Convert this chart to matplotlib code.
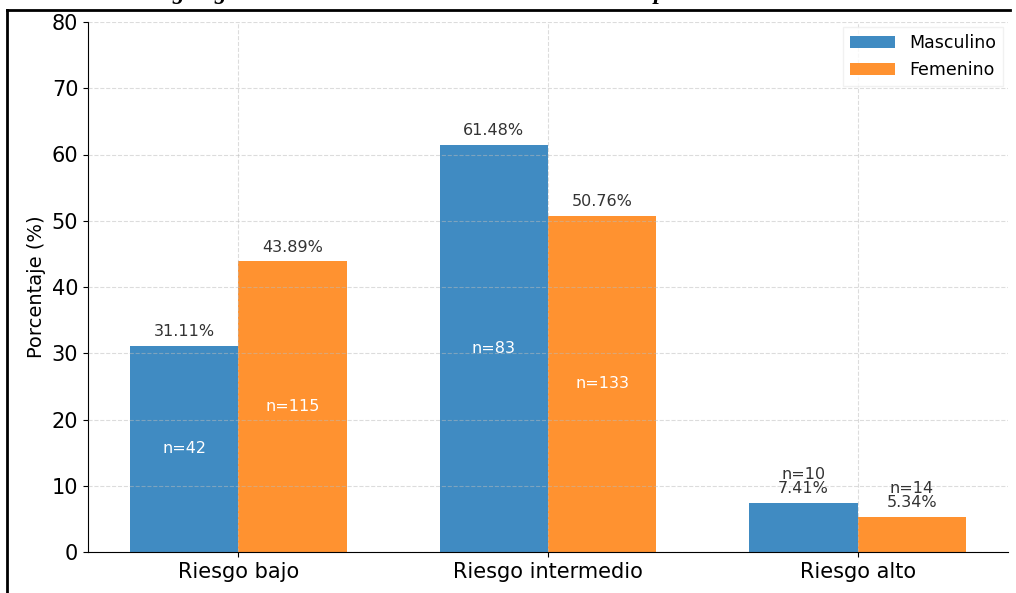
import numpy as np
import matplotlib
matplotlib.use("Agg")
import matplotlib.pyplot as plt
from matplotlib.lines import Line2D

# data
categorias = ["Riesgo bajo", "Riesgo intermedio", "Riesgo alto"]
pct_masc = [31.11, 61.48, 7.41]
pct_fem = [43.89, 50.76, 5.34]
n_masc = [42, 83, 10]
n_fem = [115, 133, 14]

azul = "#408bc2"
naranja = "#ff9230"

fig = plt.figure(figsize=(10.16, 5.93), dpi=100)
ax = fig.add_axes([88/1016, 1 - 552/593, (1008-88)/1016, (552-22)/593])

x = np.arange(len(categorias))
w = 0.35
ax.bar(x - w/2, pct_masc, w, color=azul, label="Masculino")
ax.bar(x + w/2, pct_fem, w, color=naranja, label="Femenino")

for xs, vals, ns in [(x - w/2, pct_masc, n_masc), (x + w/2, pct_fem, n_fem)]:
    for xi, v, n in zip(xs, vals, ns):
        ax.text(xi, v + 1, f"{v:.2f}%", ha="center", va="bottom", fontsize=11.5, color="#333333")
        if v > 15:
            ax.text(xi, v/2, f"n={n}", ha="center", va="center", fontsize=11.5, color="white")
        else:
            ax.text(xi, v + 3.1, f"n={n}", ha="center", va="bottom", fontsize=11.5, color="#333333")

ax.set_ylim(0, 80)
ax.set_xticks(x)
ax.set_xticklabels(categorias, fontsize=15)
ax.tick_params(axis="y", labelsize=15)
ax.set_ylabel("Porcentaje (%)", fontsize=14)
ax.grid(True, linestyle="--", alpha=0.5, color="#bbbbbb")
ax.set_axisbelow(False)
for s in ["top", "right"]:
    ax.spines[s].set_visible(False)
ax.legend(loc="upper right", fontsize=12.5, framealpha=0.8, edgecolor="#eeeeee",
          fancybox=False, handlelength=2.6, borderaxespad=0.3)

# marco de la pagina y restos del titulo cortado
fig.add_artist(Line2D([7/1016, 1010/1016], [1 - 10/593, 1 - 10/593], color="black", lw=2))
fig.add_artist(Line2D([7/1016, 7/1016], [1 - 10/593, 0], color="black", lw=2))
for px, ch in [(178, "g"), (220, "g"), (660, "p")]:
    fig.text(px/1016, 1 + 1/593, ch, ha="center", va="baseline", fontsize=17,
             family="Liberation Serif", weight="bold", style="italic")

fig.savefig("out.png", dpi=100)
